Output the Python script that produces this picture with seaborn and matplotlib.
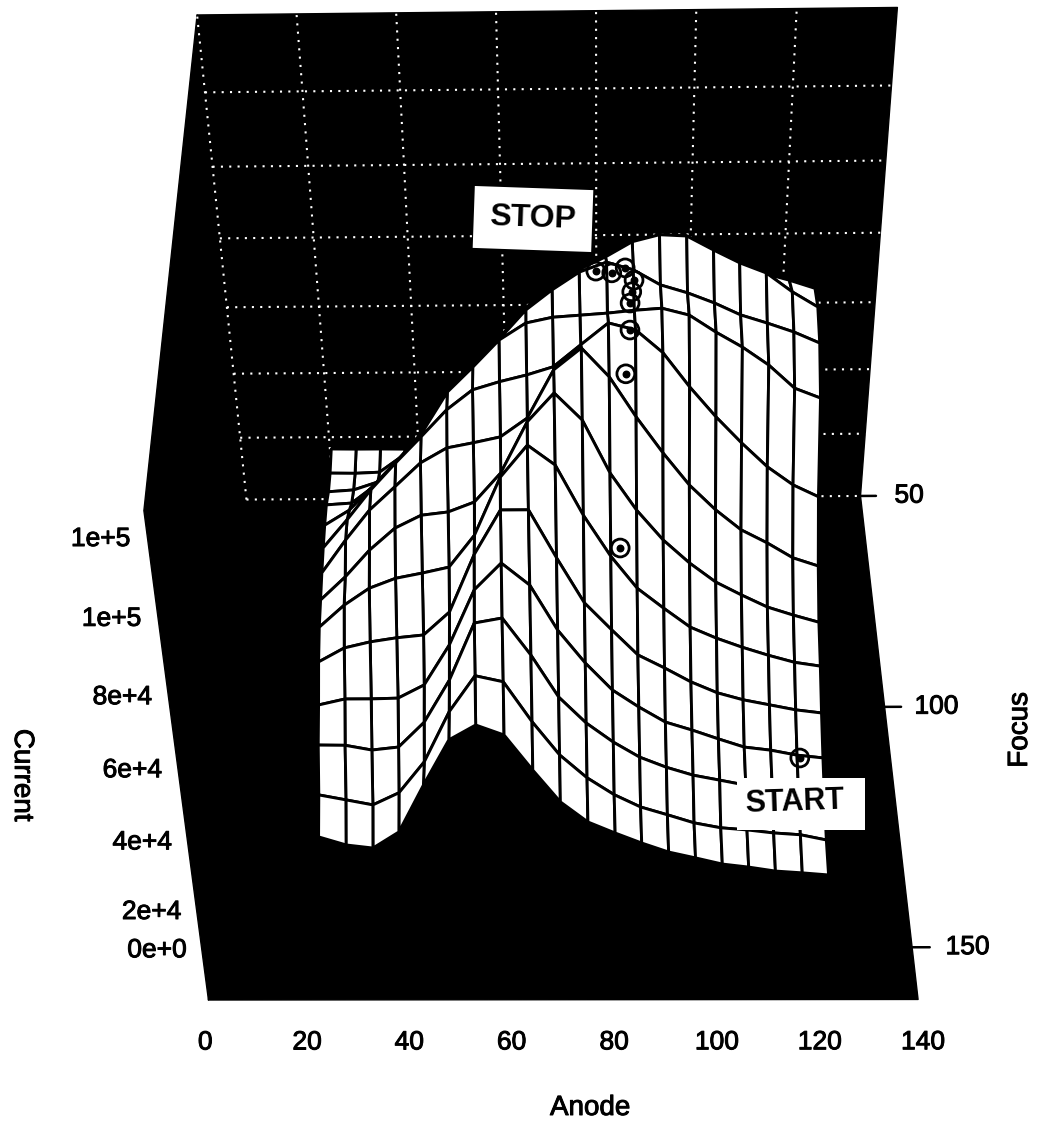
import numpy as np
import matplotlib
matplotlib.use("Agg")
import matplotlib.pyplot as plt
import matplotlib.patheffects as pe
from matplotlib.patches import Rectangle
from mpl_toolkits.mplot3d import proj3d
from mpl_toolkits.mplot3d.art3d import Poly3DCollection
import seaborn as sns

# Anode and focus settings of the scan grid
anode = [22.0, 27.4, 32.7, 38.1, 43.5, 48.9, 54.2, 59.6, 65.0, 70.3,
         75.7, 81.1, 86.4, 91.8, 97.2, 102.6, 107.9, 113.3, 118.7, 124.0]
focus = [140.0, 134.2, 128.5, 122.7, 116.9, 111.2, 105.4, 99.6, 93.8, 88.1, 82.3, 76.5, 70.8, 65.0]

# Beam current for each focus row, in hundreds
current_f140 = [197, 171, 161, 212, 358, 495, 539, 509, 403, 305, 242, 207, 175, 146, 127, 107, 97, 84, 78, 71]
current_f134 = [239, 223, 207, 245, 341, 493, 599, 581, 462, 361, 290, 237, 198, 173, 147, 131, 124, 114, 108, 91]
current_f128 = [308, 307, 292, 301, 377, 504, 671, 685, 577, 452, 373, 314, 267, 235, 210, 194, 178, 162, 145, 129]
current_f123 = [346, 364, 364, 366, 406, 526, 686, 762, 699, 568, 470, 388, 336, 289, 264, 236, 210, 200, 184, 175]
current_f117 = [394, 436, 454, 466, 474, 542, 708, 834, 834, 698, 567, 487, 411, 371, 328, 294, 272, 256, 240, 230]
current_f111 = [419, 485, 535, 564, 579, 596, 688, 851, 939, 884, 743, 625, 531, 471, 414, 380, 352, 327, 305, 293]
current_f105 = [421, 490, 569, 633, 670, 679, 707, 789, 930, 1008, 934, 787, 681, 594, 526, 469, 430, 393, 368, 346]
current_f100 = [424, 522, 610, 677, 745, 787, 801, 817, 869, 1000, 1058, 980, 870, 769, 677, 605, 546, 507, 462, 437]
current_f94 = [422, 506, 594, 672, 746, 822, 877, 899, 917, 939, 998, 1056, 1037, 975, 881, 797, 723, 654, 601, 566]
current_f88 = [415, 460, 532, 608, 689, 802, 871, 945, 991, 1006, 1011, 1016, 1023, 1028, 1009, 962, 921, 871, 806, 778]
current_f82 = [401, 406, 460, 538, 620, 735, 805, 880, 959, 1013, 1060, 1086, 1065, 1024, 1002, 974, 941, 918, 893, 862]
current_f77 = [366, 371, 395, 468, 551, 667, 739, 817, 898, 955, 1001, 1035, 1075, 1093, 1089, 1051, 1016, 988, 936, 894]
current_f71 = [350, 349, 352, 404, 449, 553, 626, 707, 789, 847, 894, 929, 978, 996, 993, 954, 918, 923, 903, 880]
current_f65 = [351, 350, 350, 349, 349, 437, 512, 594, 678, 738, 786, 822, 877, 896, 893, 853, 816, 832, 815, 795]

# Optimiser path from START to STOP
path_anode = [119.3, 83.0, 84.4, 85.3, 85.6, 86.0, 86.5, 84.8, 82.1, 79.0]
path_focus = [122.7, 110.0, 97.6, 94.0, 87.0, 85.0, 83.5, 82.0, 83.5, 82.0]
path_current = [17500, 63300, 96400, 103900, 103000, 103700, 105100, 106700, 107100, 105900]

anode_ticks = [0, 20, 40, 60, 80, 100, 120, 140]
focus_ticks = [50, 100, 150]
current_ticks = [0, 20000, 40000, 60000, 80000, 100000, 120000]
current_labels = ["0e+0", "2e+4", "4e+4", "6e+4", "8e+4", "1e+5", "1e+5"]

W, H = 1039, 1133
A_MAX, F_MIN, F_MAX, Z_MAX = 140, 50, 160, 140000

# where the plot box corners sit in the picture: anode, focus, current -> pixel
box_corners = [(0, 50, 0, 250, 500), (140, 50, 0, 860, 495), (0, 50, Z_MAX, 193, 15), (140, 50, Z_MAX, 898, 8),
               (0, 160, 0, 205, 1000), (140, 160, 0, 918, 1000), (0, 160, Z_MAX, 148, 510)]

sns.set_theme(style="white", rc={"figure.facecolor": "white"})
plt.rcParams['font.family'] = ['Liberation Sans', 'DejaVu Sans']

fig = plt.figure(figsize=(W / 100, H / 100), dpi=100)
ax = fig.add_axes([-0.1, -0.1, 1.2, 1.2], projection='3d', computed_zorder=False)
ax.set_axis_off()
ax.set_proj_type('ortho')  # no camera clipping, the matrix comes from the fit below

# fit the camera from the box corners, then hand it to the 3D axes
rows = []
for a, f, z, px, py in box_corners:
    p = [a / A_MAX, (f - F_MIN) / (F_MAX - F_MIN), z / Z_MAX, 1]
    rows.append(p + [0, 0, 0, 0] + [-px * v for v in p])
    rows.append([0, 0, 0, 0] + p + [-py * v for v in p])
cam = np.linalg.svd(np.array(rows))[2][-1].reshape(3, 4)
cam = cam / cam[2, 3]
ax.apply_aspect()
to_view = ax.transData.inverted().get_matrix() @ np.array([[1, 0, 0], [0, -1, H], [0, 0, 1]])
cam = to_view @ cam
scale = np.array([[1 / A_MAX, 0, 0, 0],
                  [0, 1 / (F_MAX - F_MIN), 0, -F_MIN / (F_MAX - F_MIN)],
                  [0, 0, 1 / Z_MAX, 0],
                  [0, 0, 0, 1]])
M = np.vstack([cam[0], cam[1], [0, -1, 0.0, 1], cam[2]]) @ scale
ax.get_proj = lambda: M

heavy = [pe.withStroke(linewidth=0.7, foreground='black')]

def label3d(x, y, z, s, **kw):
    vx, vy, _ = proj3d.proj_transform(x, y, z, M)
    ax.text2D(vx, vy, s, transform=ax.transData, va='center', fontsize=19, color='black',
              path_effects=heavy, zorder=5, **kw)

def fpos(x, y):
    return x / W, 1 - y / H

# walls and floor
walls = [
    [(0, F_MIN, 0), (A_MAX, F_MIN, 0), (A_MAX, F_MIN, Z_MAX), (0, F_MIN, Z_MAX)],
    [(0, F_MIN, 0), (0, F_MAX, 0), (0, F_MAX, Z_MAX), (0, F_MIN, Z_MAX)],
    [(0, F_MIN, 0), (A_MAX, F_MIN, 0), (A_MAX, F_MAX, 0), (0, F_MAX, 0)],
]
ax.add_collection3d(Poly3DCollection(walls, facecolor='black', edgecolor='black', zorder=1))

# dotted grid on the back wall
dots = dict(color='white', lw=1.5, ls=(0, (1, 3)), zorder=1.5)
for a in anode_ticks[:-1]:
    ax.plot([a, a], [F_MIN, F_MIN], [0, Z_MAX], **dots)
for z in current_ticks:
    ax.plot([0, A_MAX], [F_MIN, F_MIN], [z, z], **dots)

# the surface
current = np.array([current_f140, current_f134, current_f128, current_f123, current_f117, current_f111, current_f105,
                    current_f100, current_f94, current_f88, current_f82, current_f77, current_f71, current_f65]) * 100.0
X, Y = np.meshgrid(anode, focus)
ax.plot_surface(X, Y, current, rstride=1, cstride=1, color='white', edgecolor='black', linewidth=2.1,
                shade=False, antialiased=True, zorder=2)

# path markers, ring with a dot in it
ax.scatter(path_anode, path_focus, path_current, s=165, facecolors='none', edgecolors='black',
           linewidths=2.0, depthshade=False, zorder=3)
ax.scatter(path_anode, path_focus, path_current, s=22, color='black', depthshade=False, zorder=3)

# axis ticks and labels
for a in anode_ticks:
    label3d(a, 168, 0, str(a), ha='center')
for f in focus_ticks:
    ax.plot([A_MAX, A_MAX + 3.5], [f, f], [0, 0], color='black', lw=1.8, zorder=1)
    label3d(A_MAX + 11, f, 0, str(f), ha='center')
label_z = [16300, 28500, 49900, 71100, 91600, 112600, 133000]
for z, lab in zip(label_z, current_labels):
    label3d(-3, F_MAX, z, lab, ha='right')

fig.text(*fpos(590, 1108), "Anode", ha='center', va='center', fontsize=20, color='black', path_effects=heavy)
fig.text(*fpos(22, 775), "Current", ha='center', va='center', rotation=270, fontsize=20, color='black', path_effects=heavy)
fig.text(*fpos(1020, 730), "Focus", ha='center', va='center', rotation=90, fontsize=20, color='black', path_effects=heavy)

# START and STOP tags
x0, y0 = fpos(737, 830)
fig.add_artist(Rectangle((x0, y0), 128 / W, 52 / H, transform=fig.transFigure, facecolor='white', edgecolor='none', zorder=2))
fig.text(*fpos(795, 802), "START", ha='center', va='center', fontsize=22, fontweight='bold', color='black', rotation=2, zorder=3)
fig.text(*fpos(533, 219), "STOP", ha='center', va='center', fontsize=23, fontweight='bold', color='black', rotation=-2, zorder=3,
         bbox=dict(boxstyle='square,pad=0.5', facecolor='white', edgecolor='none'))

fig.savefig("out.png", dpi=100)
